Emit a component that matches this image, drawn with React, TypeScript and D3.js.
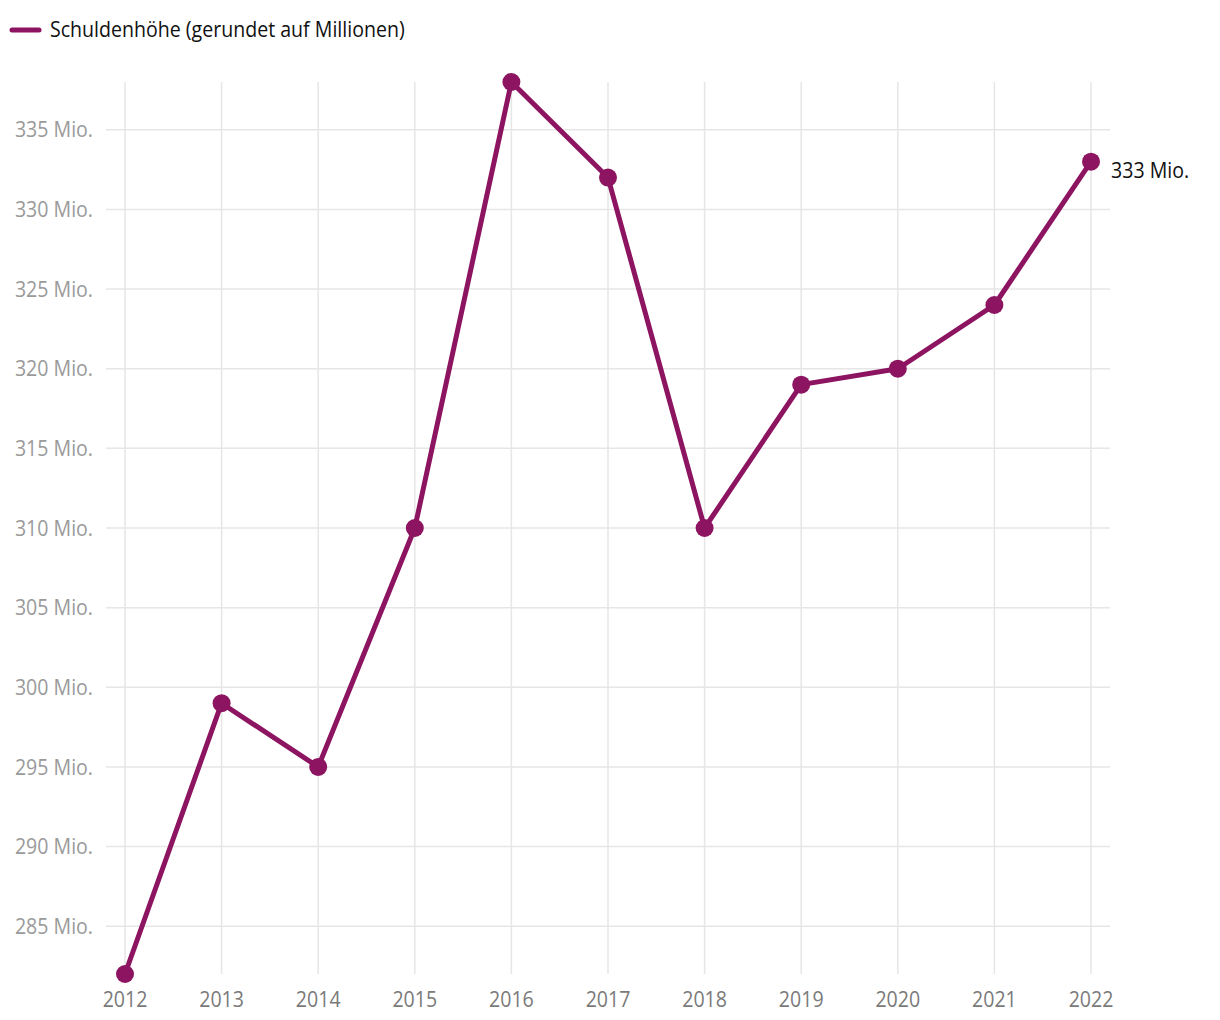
import React from 'react';
import * as d3 from 'd3';

const years = [2012, 2013, 2014, 2015, 2016, 2017, 2018, 2019, 2020, 2021, 2022];
const debt = [282, 299, 295, 310, 338, 332, 310, 319, 320, 324, 333];
const yTicks = [285, 290, 295, 300, 305, 310, 315, 320, 325, 330, 335];
const legendLabel = 'Schuldenhöhe (gerundet auf Millionen)';

const color = '#8c1460';
const font = '"Open Sans", sans-serif';
const squeeze = 0.89; // the original font is condensed

// condensed-looking text: scaled horizontally around its anchor
const Label = ({ x, y, children, anchor = 'start', fill, size = 22 }: any) => (
  <g transform={`translate(${x},${y}) scale(${squeeze},1)`}>
    <text x={0} y={0} dy="0.35em" textAnchor={anchor} fontSize={size} fill={fill}>
      {children}
    </text>
  </g>
);

const App = () => {
  const width = 1220;
  const height = 1020;

  const x = d3.scaleLinear().domain([2012, 2022]).range([125, 1091]);
  const y = d3.scaleLinear().domain([282, 338]).range([974, 82]);

  const line = d3
    .line<number>()
    .x((d, i) => x(years[i]))
    .y(d => y(d));

  const last = debt.length - 1;

  return (
    <svg width={width} height={height} style={{ position: 'absolute', left: 0, top: 0 }} fontFamily={font}>
      {/* legend */}
      <line x1={12} x2={39} y1={30} y2={30} stroke={color} strokeWidth={5} strokeLinecap="round" />
      <Label x={50} y={29} fill="#111">{legendLabel}</Label>

      {/* grid */}
      {yTicks.map(t => (
        <g key={t}>
          <line x1={106} x2={1110} y1={y(t)} y2={y(t)} stroke="#e6e6e6" strokeWidth={1.5} />
          <Label x={93} y={y(t)} anchor="end" fill="#9a9a9a">{`${t} Mio.`}</Label>
        </g>
      ))}
      {years.map(yr => (
        <g key={yr}>
          <line x1={x(yr)} x2={x(yr)} y1={82} y2={974} stroke="#e6e6e6" strokeWidth={1.5} />
          <Label x={x(yr)} y={999} anchor="middle" fill="#7a7a7a">{yr}</Label>
        </g>
      ))}

      {/* series */}
      <path d={line(debt) || ''} fill="none" stroke={color} strokeWidth={5} strokeLinejoin="round" />
      {debt.map((v, i) => (
        <circle key={years[i]} cx={x(years[i])} cy={y(v)} r={9} fill={color} />
      ))}
      <Label x={x(years[last]) + 20} y={y(debt[last]) + 9} fill="#111">{`${debt[last]} Mio.`}</Label>
    </svg>
  );
};

export default App;
